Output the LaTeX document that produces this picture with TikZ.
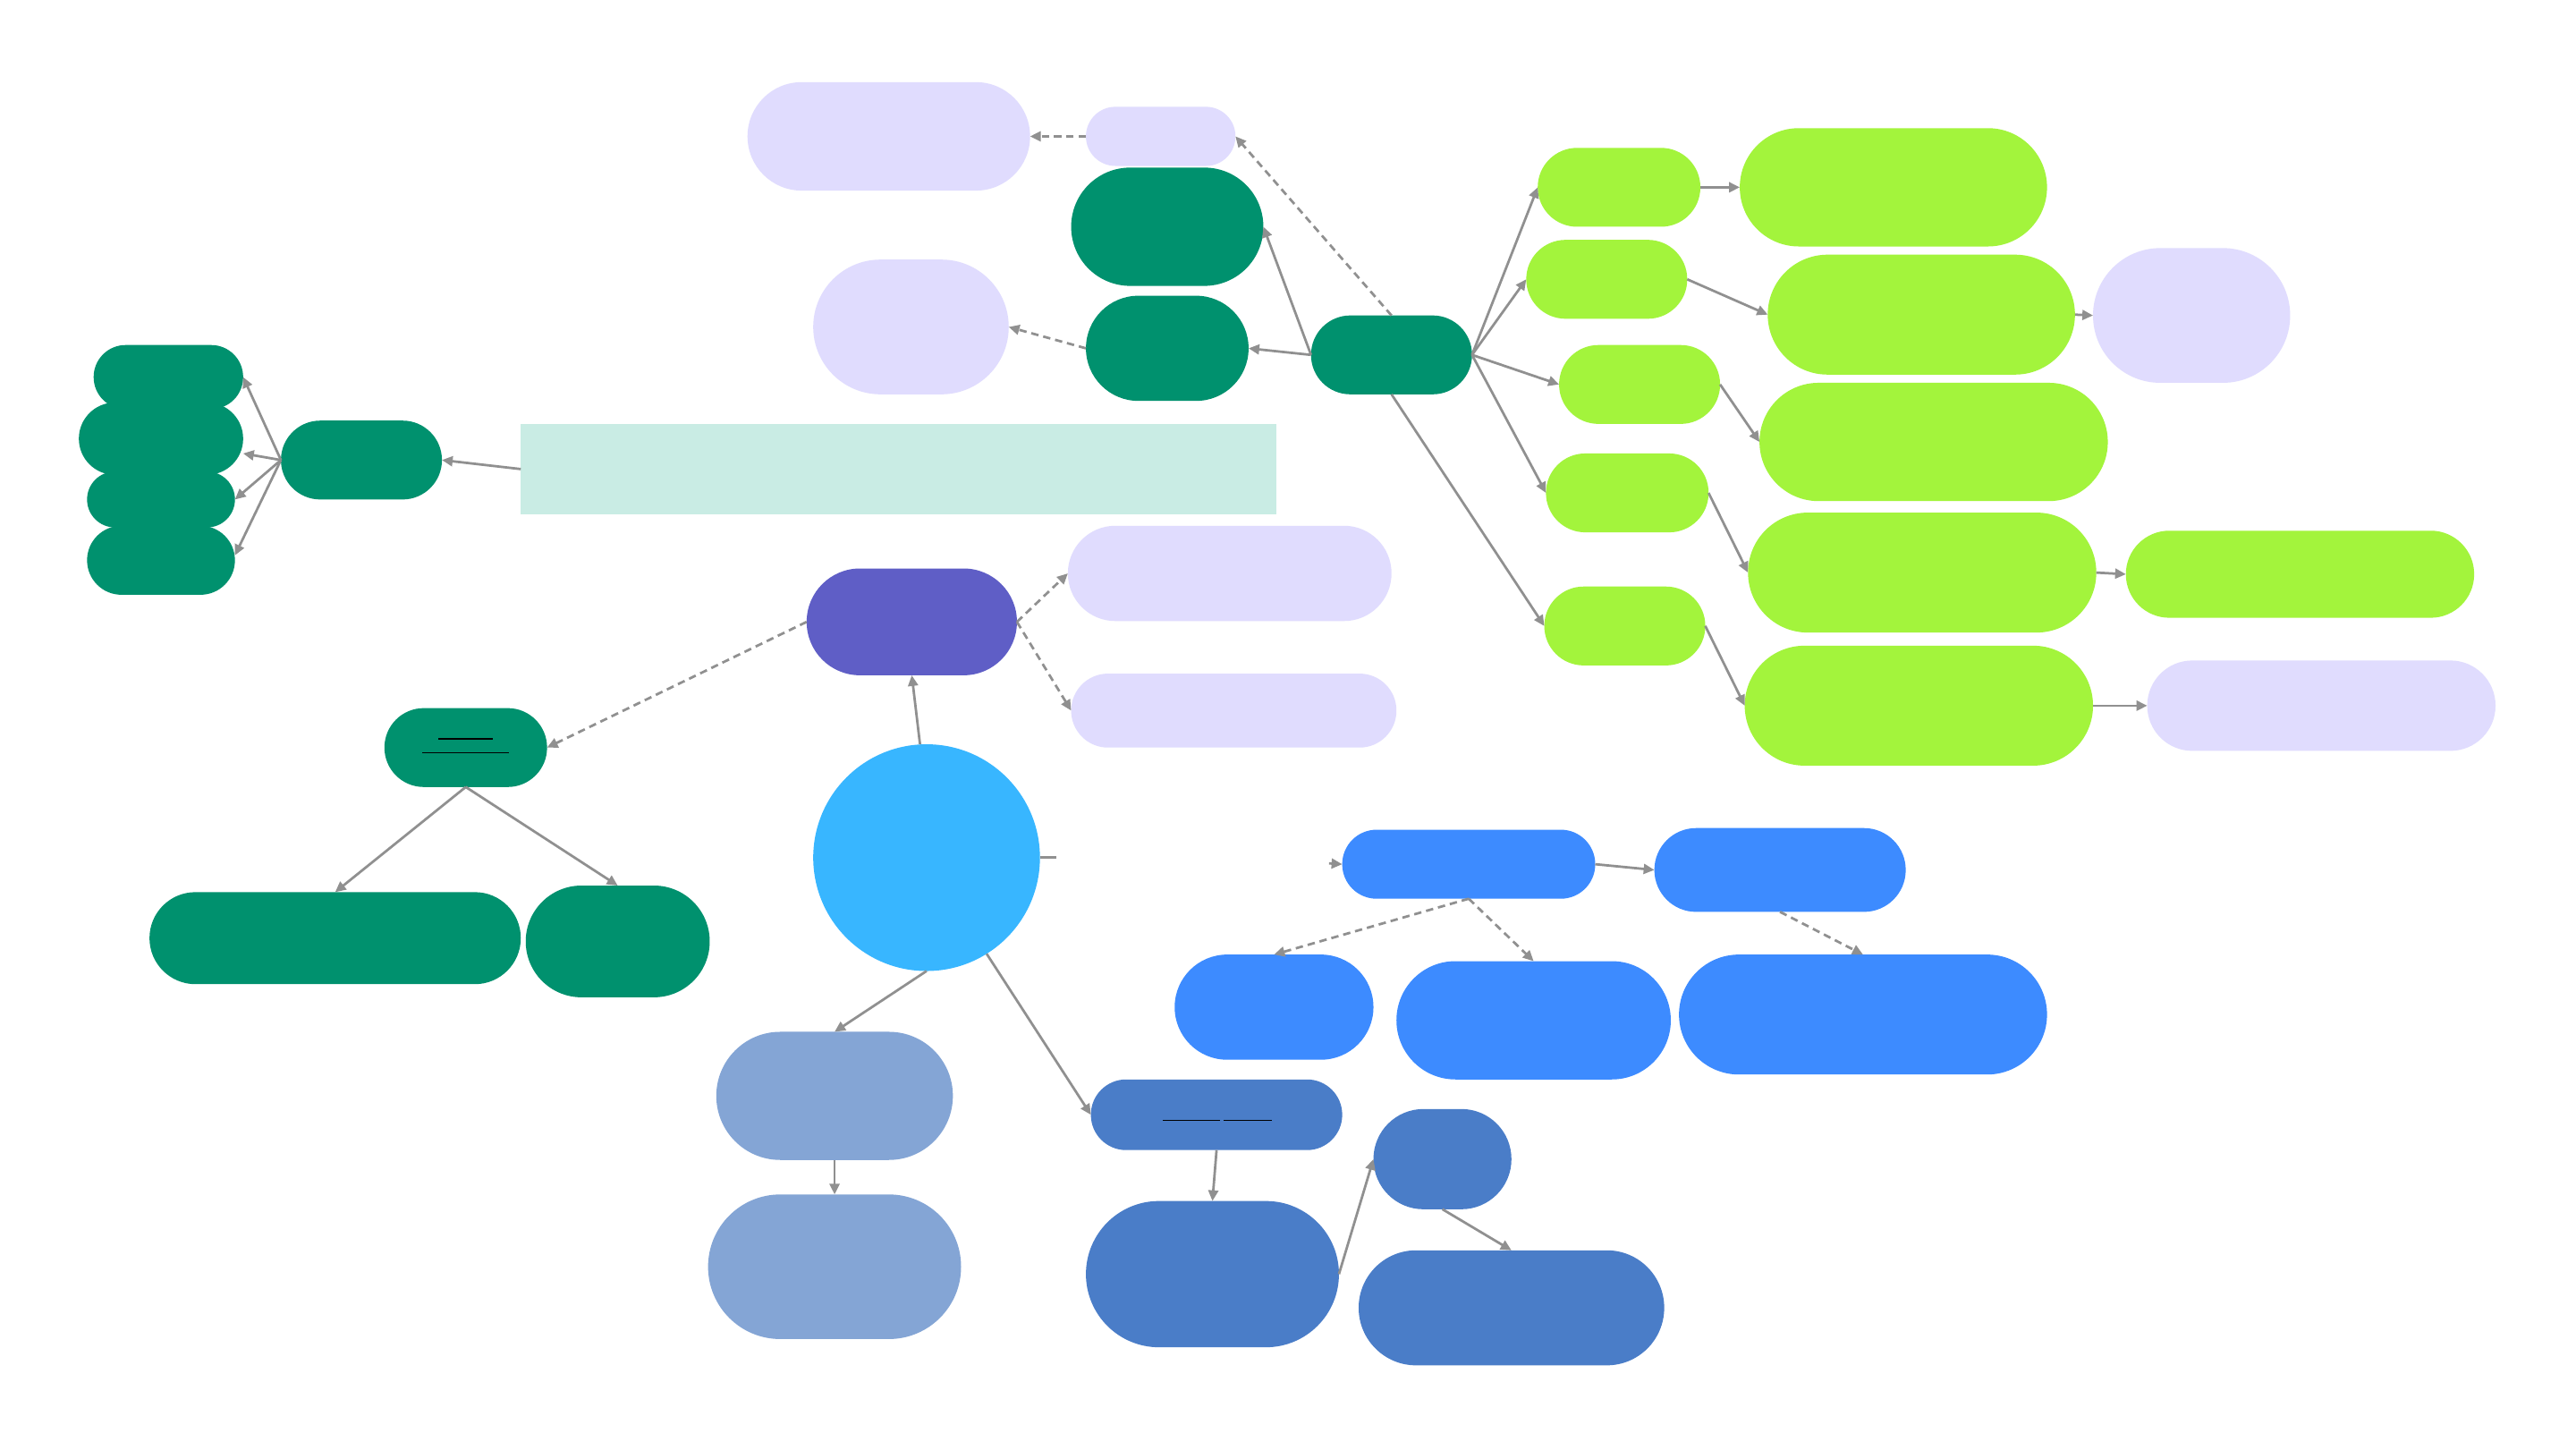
\documentclass[tikz,border=0pt]{standalone}
\usetikzlibrary{arrows.meta,calc}
\definecolor{dgreen}{RGB}{0,145,110}
\definecolor{lav}{RGB}{224,220,254}
\definecolor{lteal}{RGB}{201,236,228}
\definecolor{lime}{RGB}{163,244,60}
\definecolor{purp}{RGB}{95,94,198}
\definecolor{cyanc}{RGB}{56,182,255}
\definecolor{bblue}{RGB}{61,139,255}
\definecolor{slate}{RGB}{132,165,213}
\definecolor{mblue}{RGB}{74,125,200}
\definecolor{edgec}{RGB}{144,144,144}
\tikzset{
  pill/.style={draw=none,inner sep=0pt,outer sep=0pt,rectangle},
  conn/.style={draw=edgec,line width=1.5bp,-{Triangle[length=6.5bp,width=6bp]}},
  dconn/.style={conn,dash pattern=on 4.5bp off 3bp},
  plain/.style={draw=edgec,line width=1.5bp},
  uline/.style={draw=black,line width=0.6bp}
}
\newcommand\pillnode[6]{%
  \pgfmathsetmacro\pcx{(#3+#5)/2}%
  \pgfmathsetmacro\pcy{(#4+#6)/2}%
  \pgfmathsetmacro\pw{#5-#3}%
  \pgfmathsetmacro\ph{#6-#4}%
  \pgfmathsetmacro\pr{min(\ph,\pw)/2-0.05}%
  \node[pill,fill=#2,minimum width=\pw bp,minimum height=\ph bp,rounded corners=\pr bp] (#1) at (\pcx,\pcy) {};}
\begin{document}
\begin{tikzpicture}[x=1bp,y=-1bp]
\useasboundingbox[fill=white] (0,0) rectangle (1568,882);
% dark green left group
\pillnode{G1}{dgreen}{57}{210}{148}{249}
\pillnode{G2}{dgreen}{48}{245}{148}{289}
\pillnode{G3}{dgreen}{53}{287}{143}{321}
\pillnode{G4}{dgreen}{53}{320}{143}{362}
\pillnode{G5}{dgreen}{171}{256}{269}{304}
\node[pill,fill=lteal,minimum width=460bp,minimum height=55bp] (R) at (547,285.5) {};
% upper middle
\pillnode{L1}{lav}{455}{50}{627}{116}
\pillnode{L2}{lav}{661}{65}{752}{101}
\pillnode{L3}{lav}{495}{158}{614}{240}
\pillnode{G6}{dgreen}{652}{102}{769}{174}
\pillnode{G7}{dgreen}{661}{180}{760}{244}
\pillnode{G8}{dgreen}{798}{192}{896}{240}
% lime
\pillnode{Y1}{lime}{936}{90}{1035}{138}
\pillnode{Y2}{lime}{929}{146}{1027}{194}
\pillnode{Y3}{lime}{949}{210}{1047}{258}
\pillnode{Y4}{lime}{941}{276}{1040}{324}
\pillnode{Y5}{lime}{940}{357}{1038}{405}
\pillnode{YB1}{lime}{1059}{78}{1246}{150}
\pillnode{YB2}{lime}{1076}{155}{1263}{228}
\pillnode{YB3}{lime}{1071}{233}{1283}{305}
\pillnode{YB4}{lime}{1064}{312}{1276}{385}
\pillnode{YB5}{lime}{1062}{393}{1274}{466}
\pillnode{YB6}{lime}{1294}{323}{1506}{376}
\pillnode{L6}{lav}{1274}{151}{1394}{233}
\pillnode{L7}{lav}{1307}{402}{1519}{457}
% purple and lavender
\pillnode{P}{purp}{491}{346}{619}{411}
\pillnode{L4}{lav}{650}{320}{847}{378}
\pillnode{L5}{lav}{652}{410}{850}{455}
% green lower left
\pillnode{G9}{dgreen}{234}{431}{333}{479}
\pillnode{G10}{dgreen}{91}{543}{317}{599}
\pillnode{G11}{dgreen}{320}{539}{432}{607}
% centre circle
\node[circle,fill=cyanc,draw=none,inner sep=0pt,outer sep=0pt,minimum size=138bp] (C) at (564,522) {};
% blue right
\pillnode{B1}{bblue}{817}{505}{971}{547}
\pillnode{B2}{bblue}{1007}{504}{1160}{555}
\pillnode{B3}{bblue}{715}{581}{836}{645}
\pillnode{B4}{bblue}{850}{585}{1017}{657}
\pillnode{B5}{bblue}{1022}{581}{1246}{654}
% slate
\pillnode{S1}{slate}{436}{628}{580}{706}
\pillnode{S2}{slate}{431}{727}{585}{815}
% medium blue
\pillnode{M1}{mblue}{664}{657}{817}{700}
\pillnode{M2}{mblue}{661}{731}{815}{820}
\pillnode{M3}{mblue}{836}{675}{920}{736}
\pillnode{M4}{mblue}{827}{761}{1013}{831}
% underlines
\draw[uline] (267,449.7) -- (300,449.7);
\draw[uline] (257,458) -- (310,458);
\draw[uline] (708,681.7) -- (742.7,681.7);
\draw[uline] (744.7,681.7) -- (774,681.7);
% connectors
\draw[conn] (R.west) -- (G5.east);
\draw[conn] (G5.west) -- (G1.east);
\draw[conn] (G5.west) -- ([yshift=-9bp]G2.east);
\draw[conn] (G5.west) -- (G3.east);
\draw[conn] (G5.west) -- ([yshift=3bp]G4.east);
\draw[conn] (G8.west) -- (G7.east);
\draw[conn] (G8.west) -- (G6.east);
\draw[dconn] (G8.north) -- (L2.east);
\draw[dconn] (L2.west) -- (L1.east);
\draw[dconn] (G7.west) -- (L3.east);
\draw[conn] (G8.east) -- (Y1.west);
\draw[conn] (G8.east) -- (Y2.west);
\draw[conn] (G8.east) -- (Y3.west);
\draw[conn] (G8.east) -- (Y4.west);
\draw[conn] (G8.south) -- (Y5.west);
\draw[conn] (Y1.east) -- (YB1.west);
\draw[conn] (Y2.east) -- (YB2.west);
\draw[conn] (Y3.east) -- (YB3.west);
\draw[conn] (Y4.east) -- (YB4.west);
\draw[conn] (Y5.east) -- (YB5.west);
\draw[conn] (YB4.east) -- (YB6.west);
\draw[conn] (YB2.east) -- (L6.west);
\draw[conn] (YB5.east) -- (L7.west);
\draw[conn] ([xshift=-4bp]C.north) -- (P.south);
\draw[dconn] (P.east) -- (L4.west);
\draw[dconn] (P.east) -- (L5.west);
\draw[dconn] (P.west) -- (G9.east);
\draw[conn] (G9.south) -- (G10.north);
\draw[conn] (G9.south) -- (G11.north);
\coordinate (cstub) at (643,522);
\coordinate (bstub) at (809,525.5);
\draw[plain] (C.east) -- (cstub);
\draw[conn] (bstub) -- (B1.west);
\draw[conn] (C.south) -- (S1.north);
\draw[conn] (S1.south) -- (S2.north);
\draw[conn] (C.-58) -- (M1.west);
\draw[conn] (M1.south) -- (M2.north);
\draw[conn] (M2.east) -- (M3.west);
\draw[conn] (M3.south) -- (M4.north);
\draw[conn] (B1.east) -- (B2.west);
\draw[dconn] (B1.south) -- (B3.north);
\draw[dconn] (B1.south) -- (B4.north);
\draw[dconn] (B2.south) -- (B5.north);
\end{tikzpicture}
\end{document}
